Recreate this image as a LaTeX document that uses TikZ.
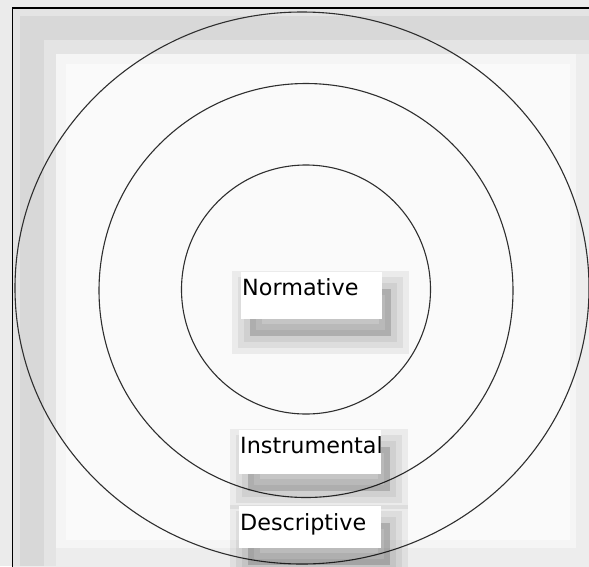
\documentclass[tikz,border=0pt]{standalone}
\usepackage{fontspec}
\setmainfont{DejaVu Sans}
\definecolor{bgout}{HTML}{EBEBEB}
\definecolor{ringline}{HTML}{2E2E2E}
\definecolor{gA}{HTML}{D8D8D8}
\definecolor{gB}{HTML}{E4E4E4}
\definecolor{gC}{HTML}{EDEDED}
\definecolor{gD}{HTML}{F5F5F5}
\definecolor{gE}{HTML}{FAFAFA}
\tikzset{
  ring/.style={draw=ringline, line width=1.1pt},
  shadowlayer/.style={preaction={draw=black, draw opacity=0.06, line width=#1, line join=miter,
      transform canvas={shift={(9pt,-17pt)}}}},
  labelbox/.style={fill=white, anchor=north west, inner sep=0pt,
    font=\fontsize{22.3pt}{24pt}\selectfont,
    shadowlayer=36pt, shadowlayer=24pt, shadowlayer=12pt,
    preaction={fill=black, fill opacity=0.16, transform canvas={shift={(9pt,-17pt)}}}},
}
\begin{document}
\begin{tikzpicture}[x=1pt,y=-1pt]
\useasboundingbox (0,0) rectangle (589,566);
% outside background
\fill[bgout] (0,0) rectangle (589,566);
% frame interior with soft inner shading
\fill[gC] (12.5,8) rectangle (600,580);
\fill[gB] (12.5,8) rectangle (589,54);
\fill[gB] (12.5,8) rectangle (56,566);
\fill[gA] (20,16) rectangle (589,40);
\fill[gA] (20,16) rectangle (44,566);
\fill[gD] (56,54) rectangle (576,548);
\fill[gE] (66,64) rectangle (570,540);
% frame
\draw[black, line width=1.3pt] (12.5,600) -- (12.5,8) -- (600,8);
% rings
\draw[ring] (302,288) ellipse [x radius=287, y radius=276];
\draw[ring] (306,290.5) circle [radius=207];
\draw[ring] (306,289.5) circle [radius=124.5];
% labels
\node[labelbox, text height=23.3pt, text depth=24pt] (norm) at (240.5,271.7) {\makebox[141.5pt][l]{\hspace{1.5pt}Normative}};
\node[labelbox, text height=23.7pt, text depth=21pt] (instr) at (239,429.3) {\makebox[142pt][l]{\hspace{1pt}Instrumental}};
\node[labelbox, text height=24pt, text depth=18pt] (descr) at (239,506) {\makebox[142pt][l]{\hspace{1pt}Descriptive}};
\end{tikzpicture}
\end{document}
